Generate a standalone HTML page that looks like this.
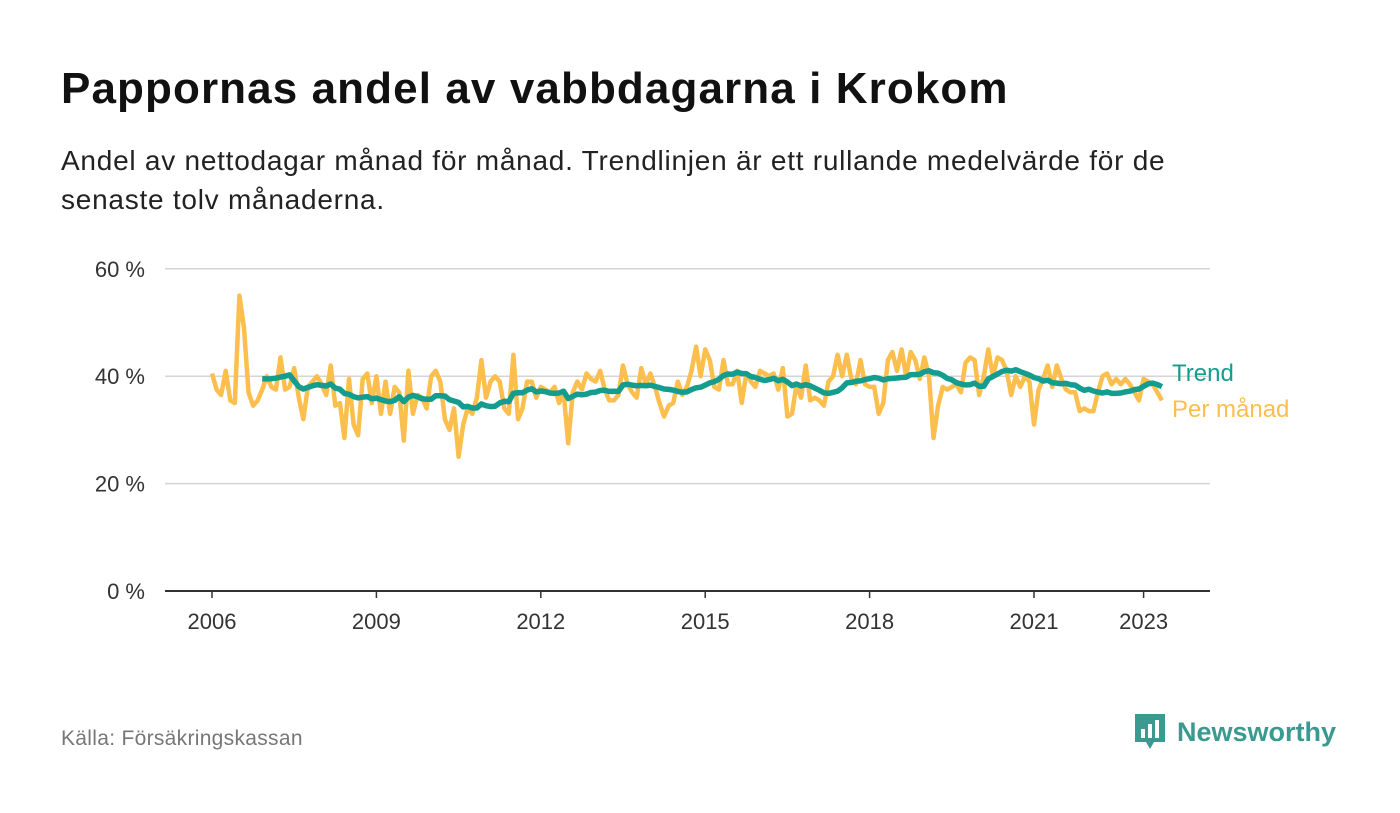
<!DOCTYPE html>
<html><head><meta charset="utf-8">
<style>
body{margin:0;width:1400px;height:813px;background:#fff;font-family:"Liberation Sans",sans-serif;overflow:hidden;position:relative}
h1{position:absolute;left:61px;top:64px;margin:0;font-size:44px;letter-spacing:1.1px;font-weight:bold;color:#111}
.sub{position:absolute;left:61px;top:141px;width:1300px;font-size:28px;letter-spacing:0.75px;line-height:39px;color:#222}
.src{position:absolute;left:61px;top:727px;font-size:21px;letter-spacing:0.3px;color:#777}
.logo{position:absolute;left:1133px;top:712px;display:flex;align-items:center;color:#3a9a8f;font-weight:bold;font-size:27px}
</style></head><body>
<h1>Pappornas andel av vabbdagarna i Krokom</h1>
<div class="sub">Andel av nettodagar månad för månad. Trendlinjen är ett rullande medelvärde för de<br>senaste tolv månaderna.</div>
<svg id="chart" width="1400" height="813" style="position:absolute;left:0;top:0"></svg>
<div class="src">Källa: Försäkringskassan</div>
<div class="logo">
<svg width="34" height="40" viewBox="0 0 34 40"><path d="M2 2h30v28H21l-4 7-4-7H2z" fill="#3a9a8f"/><rect x="8" y="17" width="4" height="9" fill="#fff"/><rect x="15" y="12" width="4" height="14" fill="#fff"/><rect x="22" y="8" width="4" height="18" fill="#fff"/></svg>
<span style="margin-left:10px">Newsworthy</span></div>
<script>
const monthly=[40.5,37.5,36.5,41,35.5,35,55,49,37,34.5,35.5,37.5,
40,38,37.5,43.5,37.5,38,41.5,36,32,38,39,40,
38.5,36.5,42,34.5,35,28.5,39.5,31,29,39.5,40.5,35,
40,33,39,33,38,37,28,41,33,36.5,36,34,
40,41,39,32,30,34,25,31,34,33,36,43,
36,39,40,39,34,33,44,32,34,39,39,36,
38,37.5,37,38,35,37,27.5,37,39,37.5,40.5,39.5,
39,41,37.5,35.5,35.5,36.5,42,38.5,37,36,41.5,38.5,
40.5,38,35,32.5,34.5,35,39,36.5,38,41,45.5,40,
45,43,38,37.5,43,38.5,38.5,41,35,40.5,39,38,
41,40.5,40,40.5,37.5,41.5,32.5,33,38.5,36,42,35.5,
36,35.5,34.5,39,40,44,40,44,39.5,38.5,43,38.5,
38,38,33,35,43,44.5,41,45,40,44.5,43,39.5,
43.5,40,28.5,34.5,38,37.5,38,38.5,37,42.5,43.5,43,
36.5,40,45,40,43.5,43,41,36.5,40,38,40,39,
31,37.5,39.5,42,38,42,39.5,37.5,37,37,33.5,34,
33.5,33.5,37,40,40.5,38.5,39.5,38.5,39.5,38.5,37,35.5,
39.5,39,38.5,37,35.5];
const startYear=2006;
const yTicks=[0,20,40,60];
const xTicks=[2006,2009,2012,2015,2018,2021,2023];
const trend=monthly.map((v,i)=>i<11?null:monthly.slice(i-11,i+1).reduce((a,b)=>a+b,0)/12);
const X=t=>212+(t-2006)*54.8, Xi=i=>X(startYear+i/12), Y=v=>591-v*5.37;
const svg=document.getElementById('chart'),NS='http://www.w3.org/2000/svg';
function mk(tag,attrs,parent){const e=document.createElementNS(NS,tag);for(const k in attrs)e.setAttribute(k,attrs[k]);(parent||svg).appendChild(e);return e;}
yTicks.forEach(v=>{
 const l=mk('line',{x1:165,x2:1210,y1:Y(v),y2:Y(v),stroke:v===0?'#333':'#d5d5d5','stroke-width':v===0?2:1.5});
 
 
 const t=mk('text',{x:145,y:Y(v)+8,'text-anchor':'end','font-size':22,fill:'#333','font-family':'Liberation Sans'});
 t.textContent=v+' %';
 
 
});
xTicks.forEach(y=>{
 const l=mk('line',{x1:X(y),x2:X(y),y1:591,y2:598,stroke:'#333','stroke-width':1.5});
 
 
 const t=mk('text',{x:X(y),y:629,'text-anchor':'middle','font-size':22,fill:'#333','font-family':'Liberation Sans'});
 t.textContent=y;
 
 
});
const mp=mk('path',{d:monthly.map((v,i)=>(i?'L':'M')+Xi(i).toFixed(1)+','+Y(v).toFixed(1)).join(''),fill:'none',stroke:'#fcbe4c','stroke-width':4.5,'stroke-linejoin':'round'});


let d='';trend.forEach((v,i)=>{if(v!=null)d+=(d?'L':'M')+Xi(i).toFixed(1)+','+Y(v).toFixed(1);});
const tp=mk('path',{d:d,fill:'none',stroke:'#149c8e','stroke-width':5.5,'stroke-linejoin':'round'});


const l1=mk('text',{x:1172,y:381,'font-size':24,fill:'#149c8e','font-family':'Liberation Sans'});l1.textContent='Trend';


const l2=mk('text',{x:1172,y:417,'font-size':24,fill:'#fcbe4c','font-family':'Liberation Sans'});l2.textContent='Per månad';


</script>
</body></html>
